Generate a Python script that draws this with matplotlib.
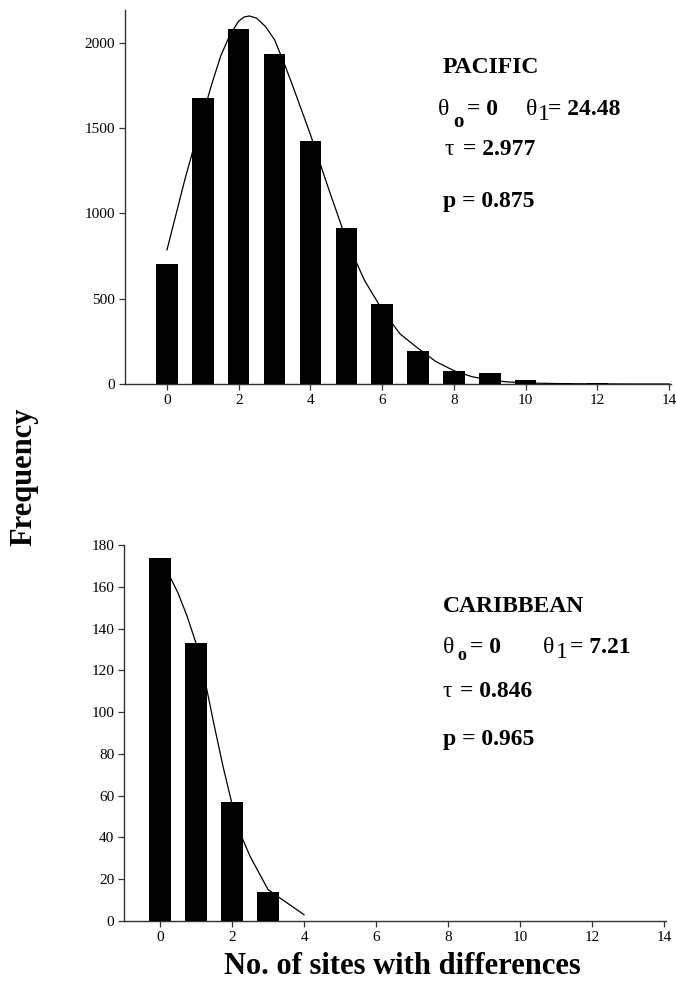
import numpy as np
import matplotlib
matplotlib.use("Agg")
import matplotlib.pyplot as plt

# -----------------------
# data
# -----------------------
pac_k = [0, 1, 2, 3, 4, 5, 6, 7, 8, 9, 10, 11, 12, 13]
pac_freq = [704, 1679, 2082, 1935, 1423, 913, 469, 195, 78, 66, 25, 5, 3, 1]
pac_fit_x = [0, 0.5, 1, 1.25, 1.5, 1.75, 2, 2.15, 2.3, 2.5, 2.75, 3, 3.25,
             3.5, 4, 4.5, 5, 5.5, 6, 6.5, 7, 7.5, 8, 8.5, 9, 9.5, 10, 11,
             12, 13, 14]
pac_fit_y = [786, 1200, 1578, 1760, 1924, 2045, 2128, 2152, 2158, 2145, 2095,
             2018, 1890, 1751, 1462, 1148, 845, 610, 434, 293, 209, 131, 78,
             43, 23, 12, 6, 2, 1, 0, 0]

car_k = [0, 1, 2, 3]
car_freq = [174, 133, 57, 14]
car_fit_x = [0, 0.3, 0.5, 0.75, 1, 1.25, 1.5, 1.75, 2, 2.25, 2.5, 3, 3.5, 4]
car_fit_y = [170, 164, 157, 146, 133, 115, 94, 74, 56, 41, 31, 15, 9, 3]

x_ticks = [0, 2, 4, 6, 8, 10, 12, 14]
pac_yticks = [0, 500, 1000, 1500, 2000]
car_yticks = [0, 20, 40, 60, 80, 100, 120, 140, 160, 180]

# -----------------------
# figure
# -----------------------
W, H = 676, 984
plt.rcParams['font.family'] = ['Liberation Serif', 'DejaVu Serif']
fig = plt.figure(figsize=(W / 100, H / 100), dpi=100)

ax1 = fig.add_axes([125 / W, 1 - 384 / H, 546 / W, 374 / H])
ax2 = fig.add_axes([124 / W, 1 - 921 / H, 542 / W, 376 / H])


def style(ax, yticks, xlim, ylim):
    ax.set_xlim(*xlim)
    ax.set_ylim(*ylim)
    ax.set_xticks(x_ticks)
    ax.set_yticks(yticks)
    for s in ['top', 'right']:
        ax.spines[s].set_visible(False)
    for s in ['left', 'bottom']:
        ax.spines[s].set_color('#333333')
        ax.spines[s].set_linewidth(1.0)
    ax.tick_params(direction='out', length=4, width=0.9, color='#333333',
                   labelsize=11, pad=3)


ax1.bar(pac_k, pac_freq, width=0.6, color='black', zorder=3)
ax1.plot(pac_fit_x, pac_fit_y, color='black', lw=0.9, zorder=2)
style(ax1, pac_yticks, (-1.17, 14.05), (0, 2193))

ax2.bar(car_k, car_freq, width=0.6, color='black', zorder=3)
ax2.plot(car_fit_x, car_fit_y, color='black', lw=0.9, zorder=2)
style(ax2, car_yticks, (-1.0, 14.05), (0, 180))


# text placed in figure pixels
def T(px, py, s, size=17, weight='bold', **kw):
    fig.text(px / W, 1 - py / H, s, fontsize=size, fontweight=weight,
             ha='left', va='baseline', **kw)


# Pacific block
T(443, 73, 'PACIFIC')
T(438, 115, 'θ', weight='normal')
T(453, 127, 'o', size=15)
T(467, 115, '= 0')
T(526, 115, 'θ', weight='normal')
T(538, 120, '1', weight='normal')
T(548, 115, '= 24.48')
T(445, 155, 'τ', weight='normal')
T(463, 155, '= 2.977')
T(443, 207, 'p = 0.875')

# Caribbean block
T(443, 612, 'CARIBBEAN')
T(443, 653, 'θ', weight='normal')
T(457, 660, 'o', size=13)
T(470, 653, '= 0')
T(543, 653, 'θ', weight='normal')
T(556, 658, '1', weight='normal')
T(570, 653, '= 7.21')
T(443, 697, 'τ', weight='normal')
T(460, 697, '= 0.846')
T(443, 745, 'p = 0.965')

fig.text(402 / W, 1 - 974 / H, 'No. of sites with differences',
         fontsize=22, fontweight='bold', ha='center', va='baseline')
fig.text(31 / W, 1 - 477 / H, 'Frequency', fontsize=22, fontweight='bold',
         rotation=90, rotation_mode='anchor', ha='center', va='baseline')

fig.savefig('out.png', dpi=100)
